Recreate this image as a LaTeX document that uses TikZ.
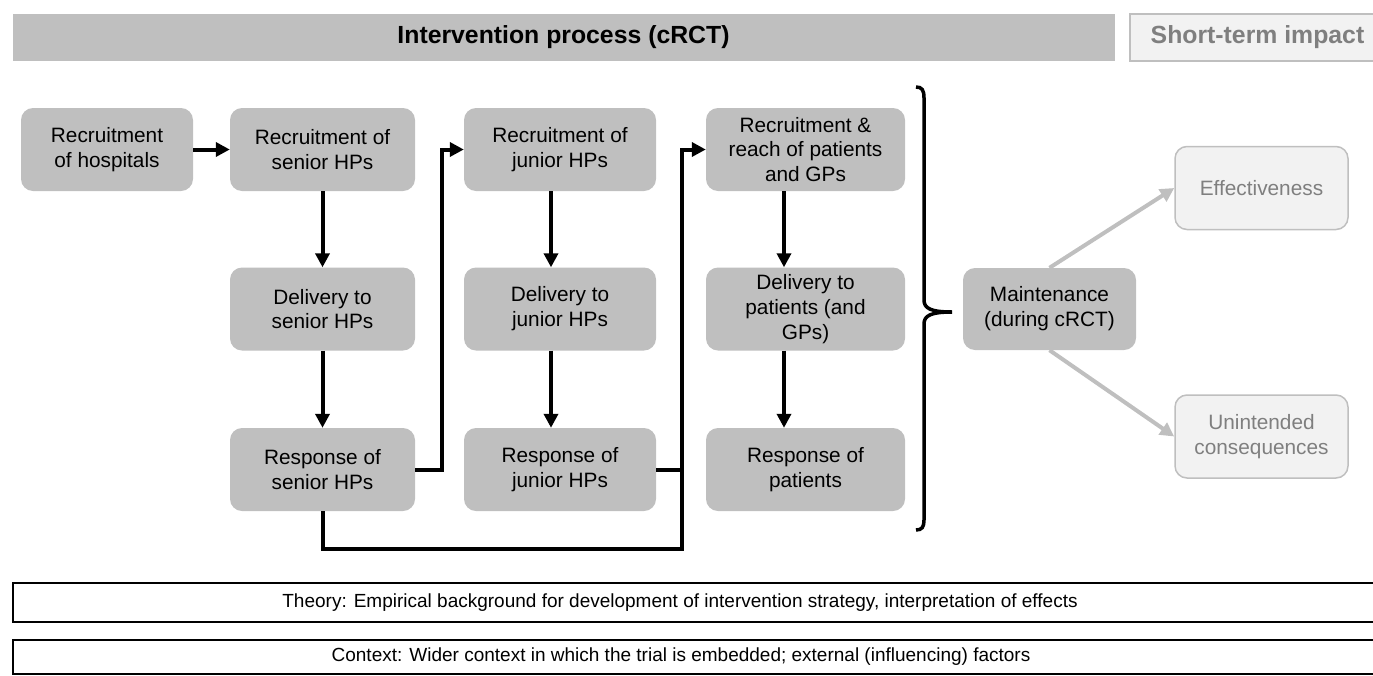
\documentclass[tikz,border=0pt]{standalone}
\usepackage{fontspec}
\setmainfont{Liberation Sans}
\usetikzlibrary{arrows.meta}
\definecolor{boxgray}{HTML}{BFBFBF}
\definecolor{palegray}{HTML}{F2F2F2}
\definecolor{fadetext}{HTML}{7F7F7F}
\begin{document}
\begin{tikzpicture}[x=1pt,y=-1pt,>={Triangle[length=14pt,width=14pt]},
	stage/.style={fill=boxgray,rounded corners=12pt,minimum height=83pt,align=center,inner sep=2pt,font=\fontsize{20.8}{24.8}\selectfont},
	outcome/.style={stage,fill=palegray,draw=boxgray,line width=1.5pt,text=fadetext},
	band/.style={draw,line width=2.5pt,fill=white,minimum width=1372pt},
	flow/.style={->,line width=4pt},
	fade/.style={->,line width=4pt,draw=boxgray,fill=boxgray}]
	\useasboundingbox (0,0) rectangle (1373,675);
	\node[fill=boxgray,draw=boxgray,minimum width=1101pt,minimum height=46pt,font=\fontsize{24.8}{28}\selectfont\bfseries] (proc) at (563.5,37) {Intervention process (cRCT)};
	\node[fill=palegray,draw=boxgray,line width=1.5pt,text=fadetext,minimum width=255pt,minimum height=47pt,font=\fontsize{24.8}{28}\selectfont\bfseries] (impact) at (1257.5,37.5) {Short-term impact};
	\node[stage,minimum width=172pt] (hosp) at (107,149.5) {Recruitment\\of hospitals};
	\node[stage,minimum width=185pt] (rs) at (322.5,149.5) {Recruitment of\\senior HPs};
	\node[stage,minimum width=185pt] (ds) at (322.5,309) {Delivery to\\senior HPs};
	\node[stage,minimum width=185pt] (ps) at (322.5,469.5) {Response of\\senior HPs};
	\node[stage,minimum width=192pt] (rj) at (560,149.5) {Recruitment of\\junior HPs};
	\node[stage,minimum width=192pt] (dj) at (560,309) {Delivery to\\junior HPs};
	\node[stage,minimum width=192pt] (pj) at (560,469.5) {Response of\\junior HPs};
	\node[stage,minimum width=199pt] (rp) at (805.5,149.5) {Recruitment \&\\reach of patients\\and GPs};
	\node[stage,minimum width=199pt] (dp) at (805.5,309) {Delivery to\\patients (and\\GPs)};
	\node[stage,minimum width=199pt] (pp) at (805.5,469.5) {Response of\\patients};
	\node[stage,minimum width=173pt,minimum height=82pt] (mt) at (1049.5,309) {Maintenance\\(during cRCT)};
	\node[outcome,minimum width=173pt] (eff) at (1261.5,188) {Effectiveness};
	\node[outcome,minimum width=173pt] (un) at (1261.5,436.5) {Unintended\\consequences};
	\coordinate (jn) at (682,469.5);
	\draw[flow] (hosp) -- (rs);
	\draw[flow] (rs) -- (ds);
	\draw[flow] (ds) -- (ps);
	\draw[flow] (ps.east) -- ++(27,0) |- (rj.west);
	\draw[flow] ([xshift=-9pt]rj.south) -- ([xshift=-9pt]dj.north);
	\draw[flow] ([xshift=-9pt]dj.south) -- ([xshift=-9pt]pj.north);
	\draw[flow] (pj.east) -- (jn) |- (rp.west);
	\draw[line width=4pt] (ps.south) -- ++(0,38) -| (jn);
	\draw[flow] ([xshift=-21.5pt]rp.south) -- ([xshift=-21.5pt]dp.north);
	\draw[flow] ([xshift=-21.5pt]dp.south) -- ([xshift=-21.5pt]pp.north);
	\draw[line width=3.5pt] (916,87) .. controls (922,87) and (924,90) .. (924,98) -- (924,300) .. controls (924,308) and (930,312) .. (952,312) .. controls (930,312) and (924,316) .. (924,324) -- (924,520) .. controls (924,527) and (922,530) .. (916,530);
	\draw[fade] (mt.north) -- (eff.west);
	\draw[fade] (mt.south) -- (un.west);
	\node[band,minimum height=39pt] (theory) at (699,602.5) {};
	\node[font=\fontsize{19}{22}\selectfont] (theorytext) at (680,602.5) {Theory: Empirical background for development of intervention strategy, interpretation of effects};
	\node[band,minimum height=34pt] (context) at (699,657) {};
	\node[font=\fontsize{19}{22}\selectfont] (contexttext) at (681,657) {Context: Wider context in which the trial is embedded; external (influencing) factors};
\end{tikzpicture}
\end{document}
